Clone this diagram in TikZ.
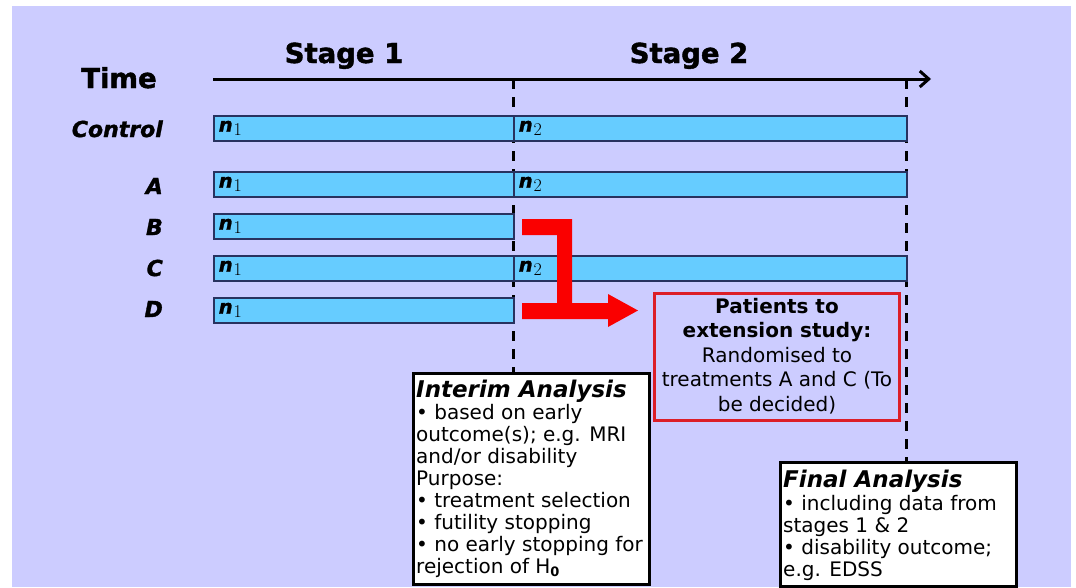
\documentclass[tikz,border=0pt]{standalone}
\usepackage{fontspec}
\setmainfont{DejaVu Sans}
\newfontfamily\digitfont{Latin Modern Roman}
\newfontfamily\heavyfont{DejaVu Sans}[FakeBold=1.5]
\usetikzlibrary{arrows.meta}

\definecolor{lavender}{RGB}{204,204,255}
\definecolor{barblue}{RGB}{102,204,255}
\definecolor{barline}{RGB}{40,50,95}
\definecolor{arrowred}{RGB}{250,0,0}
\definecolor{boxred}{RGB}{220,30,40}

% sample size label inside a bar
\newcommand\nsize[1]{{\heavyfont\bfseries\itshape n}\kern1pt\raisebox{-4pt}{\digitfont\fontsize{18}{18}\selectfont #1}}

\begin{document}
\begin{tikzpicture}[x=1pt,y=-1pt,
  heading/.style={font=\heavyfont\bfseries\fontsize{27.5}{30}\selectfont,
    inner sep=0, anchor=base},
  armlabel/.style={font=\heavyfont\bfseries\itshape\fontsize{22}{24}\selectfont,
    inner sep=0, anchor=base east},
  bar/.style={draw=barline, line width=1.5pt, fill=barblue,
    minimum height=25pt, text width=#1-10pt, inner xsep=5pt, inner ysep=0,
    align=left, anchor=north west,
    font=\fontsize{19.5}{21}\selectfont},
  timeaxis/.style={line width=3pt, -{Straight Barb[length=9pt,width=16pt]}},
  stageline/.style={line width=3pt, dash pattern=on 10pt off 8pt},
  notebox/.style={draw=black, line width=2.5pt, fill=white, inner sep=0,
    anchor=north west},
  notehead/.style={font=\bfseries\itshape\fontsize{23}{26}\selectfont,
    inner sep=0, anchor=base west},
  notebody/.style={font=\fontsize{20}{22}\selectfont, inner sep=0,
    align=left, anchor=north west},
]
% canvas
\useasboundingbox (0,0) rectangle (1076,587);
\fill[white] (0,0) rectangle (1076,587);
\fill[lavender] (12,6) rectangle (1071,587);

% titles
\node[heading] (stage1) at (344,63) {Stage 1};
\node[heading] (stage2) at (689,63) {Stage 2};
\node[heading, anchor=base west] (time) at (81,88) {Time};

% time axis
\coordinate (t0) at (213,79);
\coordinate (t1) at (931,79);
\draw[timeaxis] (t0) -- (t1);

% analysis boxes
\node[notebox, minimum width=236pt, minimum height=211pt] (interim) at (412,372) {};
\node[notebox, minimum width=236pt, minimum height=124pt] (final) at (779,461) {};

% stage boundaries
\coordinate (s1) at (513,79);
\coordinate (s2) at (906,79);
\draw[stageline] (s1) -- (s1 |- interim.north);
\draw[stageline] (s2) -- (s2 |- final.north);

% arm labels
\node[armlabel] (lc) at (163,137) {Control};
\node[armlabel] (la) at (163,194) {A};
\node[armlabel] (lb) at (163,235) {B};
\node[armlabel] (lcc) at (163,276) {C};
\node[armlabel] (ld) at (163,317) {D};

% recruitment bars
\node[bar=300pt] (c1) at (213,115) {\nsize{1}};
\node[bar=393pt] (c2) at (513,115) {\nsize{2}};
\node[bar=300pt] (a1) at (213,171) {\nsize{1}};
\node[bar=393pt] (a2) at (513,171) {\nsize{2}};
\node[bar=300pt] (b1) at (213,213) {\nsize{1}};
\node[bar=300pt] (cc1) at (213,255) {\nsize{1}};
\node[bar=393pt] (cc2) at (513,255) {\nsize{2}};
\node[bar=300pt] (d1) at (213,297) {\nsize{1}};

% dropped arms moved to the extension study
\fill[arrowred] (522,219) -- (572,219) -- (572,303) -- (608,303) -- (608,294)
  -- (638,310.5) -- (608,327) -- (608,319) -- (522,319) -- (522,303)
  -- (557,303) -- (557,235) -- (522,235) -- cycle;

\node[draw=boxred, line width=3pt, minimum width=245pt, minimum height=127pt,
  inner sep=0, anchor=north west] (ext) at (653,292) {};
\node[font=\fontsize{20}{24.5}\selectfont, align=center, inner sep=0,
  anchor=north] (exttext) at (ext.north |- 0,298)
  {\textbf{Patients to}\\\textbf{extension study:}\\Randomised to\\
   treatments A and C (To\\be decided)};

% analysis texts
\node[notehead] (ih) at (416,397) {Interim Analysis};
\node[notebody] (ib) at (416,404)
  {• based on early\\outcome(s); e.g. MRI\\and/or disability\\Purpose:\\
   • treatment selection\\• futility stopping\\• no early stopping for\\
   rejection of H\raisebox{-3pt}{\fontsize{13}{13}\selectfont\bfseries 0}};
\node[notehead] (fh) at (783,487) {Final Analysis};
\node[notebody] (fb) at (783,495)
  {• including data from\\stages 1 \& 2\\• disability outcome;\\e.g. EDSS};
\end{tikzpicture}
\end{document}
